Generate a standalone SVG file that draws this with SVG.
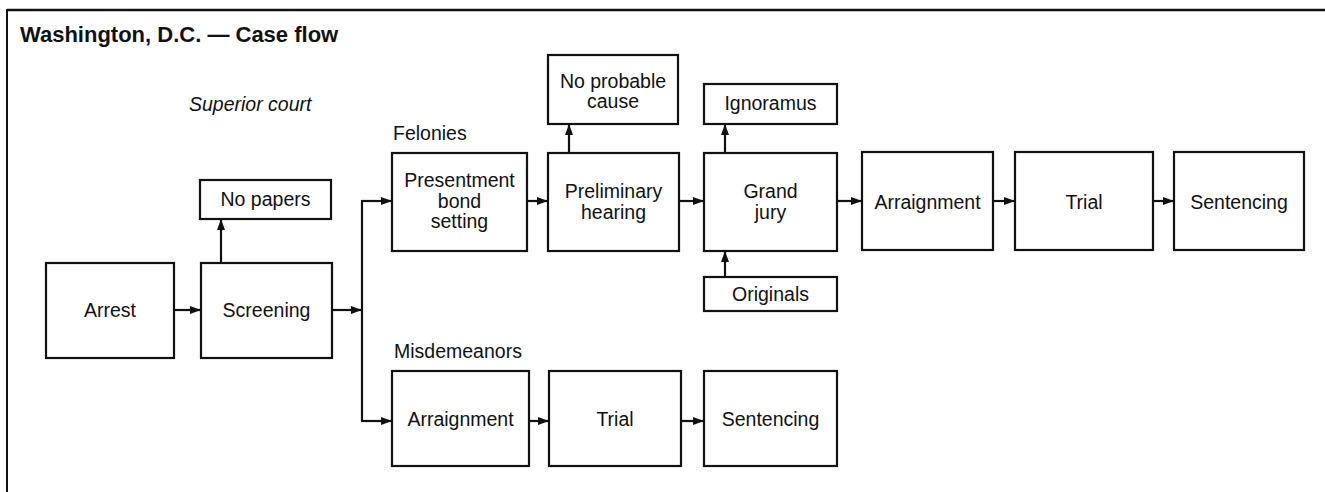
<svg xmlns="http://www.w3.org/2000/svg" width="1325" height="492" viewBox="0 0 1325 492">
<style>
.box{fill:#fff;stroke:#111;stroke-width:2.2}
.t{font-family:"Liberation Sans",Arial,sans-serif;font-size:19.5px;fill:#111;text-anchor:middle}
.lbl{font-family:"Liberation Sans",Arial,sans-serif;font-size:19.5px;fill:#111}
.c{stroke:#111;stroke-width:2.2;fill:none;marker-end:url(#ah)}
.l{stroke:#111;stroke-width:2.2;fill:none}
</style>
<defs>
<marker id="ah" viewBox="0 0 11 8" refX="11" refY="4" markerWidth="11" markerHeight="8" markerUnits="userSpaceOnUse" orient="auto">
<path d="M0,0 L11,4 L0,8 Z" fill="#111"/>
</marker>
</defs>
<rect width="1325" height="492" fill="#fff"/>
<g id="frame">
<line x1="7" y1="10" x2="1325" y2="10" stroke="#111" stroke-width="2.5"/>
<line x1="7" y1="9" x2="7" y2="492" stroke="#111" stroke-width="2"/>
<text x="20" y="42" font-family="'Liberation Sans',Arial,sans-serif" font-size="22" font-weight="bold" fill="#111">Washington, D.C. — Case flow</text>
<text x="189" y="111" font-family="'Liberation Sans',Arial,sans-serif" font-size="19.5" font-style="italic" fill="#111">Superior court</text>
<text class="lbl" x="393" y="140">Felonies</text>
<text class="lbl" x="394" y="358">Misdemeanors</text>
</g>
<g id="connectors">
<line class="c" x1="174" y1="310" x2="201" y2="310"/>
<line class="c" x1="332" y1="310" x2="362" y2="310"/>
<line class="l" x1="362" y1="201" x2="362" y2="421"/>
<line class="c" x1="361" y1="201" x2="392" y2="201"/>
<line class="c" x1="361" y1="421" x2="392" y2="421"/>
<line class="c" x1="221" y1="263" x2="221" y2="219"/>
<line class="c" x1="527" y1="201" x2="548" y2="201"/>
<line class="c" x1="569" y1="153" x2="569" y2="124"/>
<line class="c" x1="679" y1="201" x2="704" y2="201"/>
<line class="c" x1="725" y1="153" x2="725" y2="124"/>
<line class="c" x1="725" y1="277" x2="725" y2="251"/>
<line class="c" x1="837" y1="201" x2="862" y2="201"/>
<line class="c" x1="993" y1="201" x2="1015" y2="201"/>
<line class="c" x1="1153" y1="201" x2="1174" y2="201"/>
<line class="c" x1="529" y1="421" x2="549" y2="421"/>
<line class="c" x1="681" y1="421" x2="704" y2="421"/>
</g>
<g id="arrest"><rect class="box" x="46" y="263" width="128" height="95"/><text class="t" x="110" y="317">Arrest</text></g>
<g id="screening"><rect class="box" x="201" y="263" width="131" height="95"/><text class="t" x="266.5" y="317">Screening</text></g>
<g id="nopapers"><rect class="box" x="200" y="180" width="131" height="39"/><text class="t" x="265.5" y="206">No papers</text></g>
<g id="presentment"><rect class="box" x="392" y="153" width="135" height="98"/><text class="t" x="459.5" y="187">Presentment</text><text class="t" x="459.5" y="208">bond</text><text class="t" x="459.5" y="228">setting</text></g>
<g id="preliminary"><rect class="box" x="548" y="153" width="131" height="98"/><text class="t" x="613.5" y="198">Preliminary</text><text class="t" x="613.5" y="219">hearing</text></g>
<g id="noprobable"><rect class="box" x="548" y="55" width="130" height="69"/><text class="t" x="613" y="88">No probable</text><text class="t" x="613" y="108">cause</text></g>
<g id="grandjury"><rect class="box" x="704" y="153" width="133" height="98"/><text class="t" x="770.5" y="198">Grand</text><text class="t" x="770.5" y="219">jury</text></g>
<g id="ignoramus"><rect class="box" x="704" y="84" width="133" height="40"/><text class="t" x="770.5" y="110">Ignoramus</text></g>
<g id="originals"><rect class="box" x="704" y="277" width="133" height="34"/><text class="t" x="770.5" y="301">Originals</text></g>
<g id="f-arraignment"><rect class="box" x="862" y="152" width="131" height="98"/><text class="t" x="927.5" y="209">Arraignment</text></g>
<g id="f-trial"><rect class="box" x="1015" y="152" width="138" height="98"/><text class="t" x="1084" y="209">Trial</text></g>
<g id="f-sentencing"><rect class="box" x="1174" y="152" width="130" height="98"/><text class="t" x="1239" y="209">Sentencing</text></g>
<g id="m-arraignment"><rect class="box" x="392" y="371" width="137" height="95"/><text class="t" x="460.5" y="426">Arraignment</text></g>
<g id="m-trial"><rect class="box" x="549" y="371" width="132" height="95"/><text class="t" x="615" y="426">Trial</text></g>
<g id="m-sentencing"><rect class="box" x="704" y="371" width="133" height="95"/><text class="t" x="770.5" y="426">Sentencing</text></g>
</svg>
